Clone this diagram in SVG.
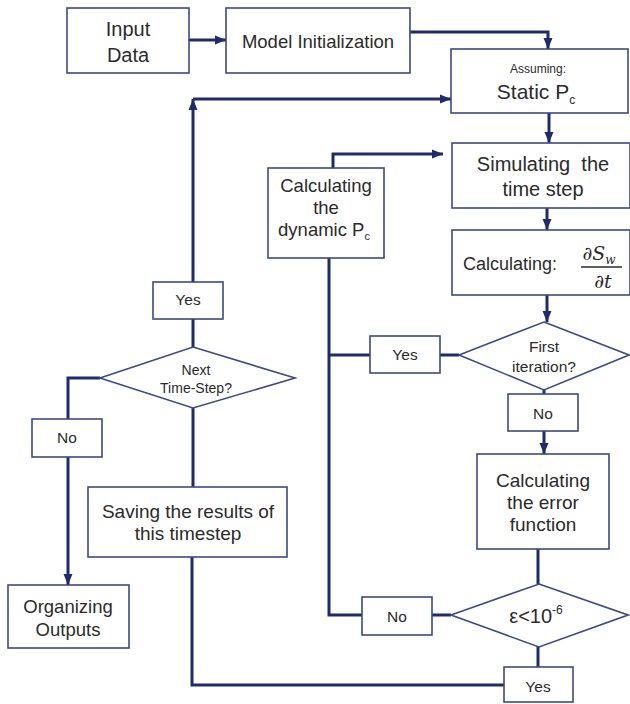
<svg xmlns="http://www.w3.org/2000/svg" width="630" height="704" viewBox="0 0 630 704">
<defs>
<style>
.box{fill:#fff;stroke:#3d4a88;stroke-width:1.6}
.ln{fill:none;stroke:#1f2b6b;stroke-width:3}
.t{font-family:"Liberation Sans",Arial,sans-serif;fill:#2b2b2b;text-anchor:middle}
.m{font-family:"DejaVu Serif","Liberation Serif",serif;font-style:italic;fill:#2b2b2b;text-anchor:middle}
</style>
<marker id="ah" markerUnits="userSpaceOnUse" markerWidth="12" markerHeight="12" viewBox="0 0 12 12" refX="11" refY="6" orient="auto">
<path d="M0,1.5 L11,6 L0,10.5 Z" fill="#1f2b6b"/>
</marker>
</defs>
<rect width="630" height="704" fill="#fff"/>
<g id="connectors">
<path class="ln" d="M189,40 H226" marker-end="url(#ah)"/>
<path class="ln" d="M410,32 H548 V49" marker-end="url(#ah)"/>
<path class="ln" d="M549,113 V143" marker-end="url(#ah)"/>
<path class="ln" d="M193,282 V99" marker-end="url(#ah)"/>
<path class="ln" d="M193,99 H451" marker-end="url(#ah)"/>
<path class="ln" d="M333,168 V154 H443" marker-end="url(#ah)"/>
<path class="ln" d="M547,208 V230" marker-end="url(#ah)"/>
<path class="ln" d="M547,295 V322" marker-end="url(#ah)"/>
<path class="ln" d="M459,355 H440"/>
<path class="ln" d="M370,355 H329"/>
<path class="ln" d="M329,258 V615 H362"/>
<path class="ln" d="M451,615 H432"/>
<path class="ln" d="M544,390 V394"/>
<path class="ln" d="M544,431 V454" marker-end="url(#ah)"/>
<path class="ln" d="M538,549 V584"/>
<path class="ln" d="M538,647 V667"/>
<path class="ln" d="M504,685 H192 V557"/>
<path class="ln" d="M193,487 V408"/>
<path class="ln" d="M193,347 V319"/>
<path class="ln" d="M100,378 H68 V419"/>
<path class="ln" d="M68,457 V585" marker-end="url(#ah)"/>
</g>
<g id="input">
<rect class="box" x="67" y="8" width="122" height="65"/>
<text class="t" x="128" y="36" font-size="20">Input</text>
<text class="t" x="128" y="62" font-size="20">Data</text>
</g>
<g id="model">
<rect class="box" x="226" y="8" width="184" height="65"/>
<text class="t" x="318" y="48" font-size="18.5">Model Initialization</text>
</g>
<g id="assuming">
<rect class="box" x="451" y="49" width="177" height="64"/>
<text class="t" x="538" y="73" font-size="12">Assuming:</text>
<text class="t" x="536" y="99" font-size="21">Static P<tspan font-size="12" dy="5">c</tspan></text>
</g>
<g id="simulating">
<rect class="box" x="452" y="143" width="178" height="65"/>
<text class="t" x="543" y="171" font-size="20" xml:space="preserve">Simulating  the</text>
<text class="t" x="543" y="196" font-size="20">time step</text>
</g>
<g id="dynamic">
<rect class="box" x="268" y="168" width="116" height="90"/>
<text class="t" x="326" y="192" font-size="18.5">Calculating</text>
<text class="t" x="326" y="214" font-size="18.5">the</text>
<text class="t" x="324" y="236" font-size="18.5">dynamic P<tspan font-size="11" dy="4">c</tspan></text>
</g>
<g id="calc-dsw">
<rect class="box" x="452" y="230" width="178" height="65"/>
<text class="t" x="510" y="270" font-size="18">Calculating:</text>
<text class="m" x="599" y="260" font-size="19">∂S<tspan font-size="12" dy="4">w</tspan></text>
<line x1="581" y1="267" x2="622" y2="267" stroke="#2b2b2b" stroke-width="1.3"/>
<text class="m" x="603" y="288" font-size="19">∂t</text>
</g>
<g id="first-iteration">
<polygon class="box" points="544,322 629,355 544,390 459,355"/>
<text class="t" x="544" y="352" font-size="15.5">First</text>
<text class="t" x="544" y="372" font-size="15.5">iteration?</text>
</g>
<g id="yes-first">
<rect class="box" x="370" y="336" width="70" height="37"/>
<text class="t" x="405" y="360" font-size="15.5">Yes</text>
</g>
<g id="no-first">
<rect class="box" x="508" y="394" width="70" height="37"/>
<text class="t" x="543" y="419" font-size="15.5">No</text>
</g>
<g id="error">
<rect class="box" x="477" y="454" width="132" height="95"/>
<text class="t" x="543" y="487" font-size="19">Calculating</text>
<text class="t" x="543" y="509" font-size="19">the error</text>
<text class="t" x="543" y="531" font-size="19">function</text>
</g>
<g id="epsilon">
<polygon class="box" points="539,584 628,615 539,647 451,615"/>
<text class="t" x="536" y="623" font-size="20">ε&lt;10<tspan font-size="12" dy="-9">-6</tspan></text>
</g>
<g id="no-eps">
<rect class="box" x="362" y="597" width="70" height="38"/>
<text class="t" x="397" y="622" font-size="15.5">No</text>
</g>
<g id="yes-eps">
<rect class="box" x="504" y="667" width="69" height="35"/>
<text class="t" x="538" y="692" font-size="15.5">Yes</text>
</g>
<g id="saving">
<rect class="box" x="88" y="487" width="199" height="70"/>
<text class="t" x="188" y="518" font-size="19">Saving the results of</text>
<text class="t" x="188" y="540" font-size="19">this timestep</text>
</g>
<g id="next-step">
<polygon class="box" points="193,347 295,378 193,408 100,378"/>
<text class="t" x="196" y="375" font-size="14">Next</text>
<text class="t" x="196" y="393" font-size="14">Time-Step?</text>
</g>
<g id="yes-next">
<rect class="box" x="153" y="282" width="70" height="37"/>
<text class="t" x="188" y="305" font-size="15.5">Yes</text>
</g>
<g id="no-next">
<rect class="box" x="32" y="419" width="70" height="38"/>
<text class="t" x="67" y="443" font-size="15.5">No</text>
</g>
<g id="organizing">
<rect class="box" x="8" y="585" width="121" height="63"/>
<text class="t" x="68" y="613" font-size="18.5">Organizing</text>
<text class="t" x="68" y="636" font-size="18.5">Outputs</text>
</g>
</svg>
